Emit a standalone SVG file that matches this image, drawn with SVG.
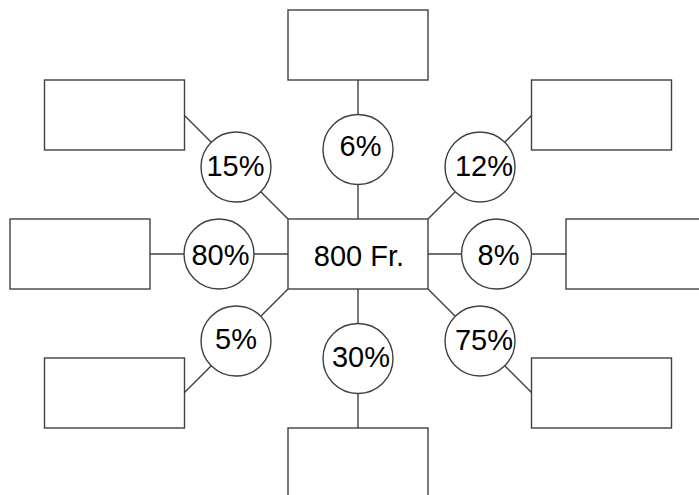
<svg xmlns="http://www.w3.org/2000/svg" width="699" height="495" viewBox="0 0 699 495">
<style>
.b{fill:#fff;stroke:#404040;stroke-width:1.4}
.c{fill:#fff;stroke:#404040;stroke-width:1.4}
.e{fill:none;stroke:#404040;stroke-width:1.4}
text{font-family:"Liberation Sans",Arial,sans-serif;font-size:29px;fill:#000;text-anchor:middle}
</style>
<rect width="699" height="495" fill="#fff"/>
<g id="connectors">
<line class="e" x1="358" y1="80" x2="358" y2="219"/>
<line class="e" x1="358" y1="289" x2="358" y2="428"/>
<line class="e" x1="150" y1="254" x2="288" y2="254"/>
<line class="e" x1="428" y1="254" x2="566" y2="254"/>
<line class="e" x1="184" y1="115" x2="288" y2="219"/>
<line class="e" x1="532" y1="115" x2="428" y2="219"/>
<line class="e" x1="184" y1="393" x2="288" y2="289"/>
<line class="e" x1="532" y1="393" x2="428" y2="289"/>
</g>
<g id="center"><rect class="b" x="288" y="219" width="140" height="70"/><text x="359" y="265.5">800 Fr.</text></g>
<g id="box-top"><rect class="b" x="288" y="10" width="140" height="70"/></g>
<g id="box-bottom"><rect class="b" x="288" y="428" width="140" height="70"/></g>
<g id="box-tl"><rect class="b" x="44.5" y="80" width="140" height="70"/></g>
<g id="box-l"><rect class="b" x="10" y="219" width="140" height="70"/></g>
<g id="box-bl"><rect class="b" x="44.5" y="358" width="140" height="70"/></g>
<g id="box-tr"><rect class="b" x="531.5" y="80" width="140" height="70"/></g>
<g id="box-r"><rect class="b" x="566" y="219" width="140" height="70"/></g>
<g id="box-br"><rect class="b" x="531.5" y="358" width="140" height="70"/></g>
<g id="p6"><circle class="c" cx="358" cy="149.5" r="35"/><text x="360.5" y="155.5">6%</text></g>
<g id="p30"><circle class="c" cx="358" cy="358.5" r="35"/><text x="361" y="366.5">30%</text></g>
<g id="p15"><circle class="c" cx="236" cy="167" r="35"/><text x="235.5" y="175.5">15%</text></g>
<g id="p12"><circle class="c" cx="480" cy="167" r="35"/><text x="484" y="175.5">12%</text></g>
<g id="p80"><circle class="c" cx="219" cy="254" r="35"/><text x="220.5" y="265">80%</text></g>
<g id="p8"><circle class="c" cx="496.5" cy="254" r="35"/><text x="498.5" y="265">8%</text></g>
<g id="p5"><circle class="c" cx="236" cy="341" r="35"/><text x="236" y="349">5%</text></g>
<g id="p75"><circle class="c" cx="480" cy="341" r="35"/><text x="484" y="350">75%</text></g>
</svg>
